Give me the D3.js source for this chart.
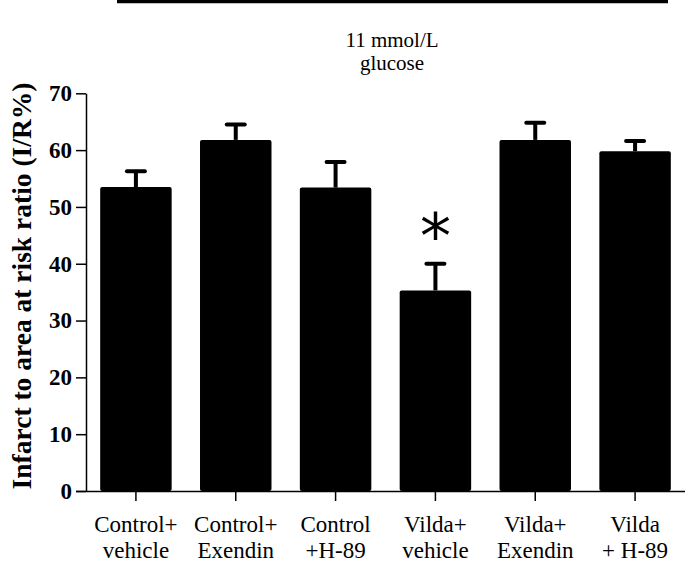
<!DOCTYPE html>
<html><head><meta charset="utf-8">
<script src="https://cdn.jsdelivr.net/npm/d3@7"></script>
<style>body{margin:0;background:#fff}</style>
</head><body>
<svg id="c" width="685" height="562"></svg>
<script>
const categories = [["Control+","vehicle"],["Control+","Exendin"],["Control","+H-89"],["Vilda+","vehicle"],["Vilda+","Exendin"],["Vilda","+ H-89"]];
const values = [53.5, 61.8, 53.4, 35.3, 61.8, 59.8];
const errors = [2.8, 2.7, 4.5, 4.7, 3.0, 1.8];
const yTicks = [0,10,20,30,40,50,60,70];
const significance = ["", "", "", "*", "", ""];
const groupLabel = ["11 mmol/L","glucose"];
const yTitle = "Infarct to area at risk ratio (I/R%)";

const svg = d3.select("#c");
const serif = "'Liberation Serif','Times New Roman',serif";
const x = d3.scaleBand().domain(d3.range(values.length)).range([86,685]).paddingInner(0.284).paddingOuter(0.142);
const y = d3.scaleLinear().domain([0,70]).range([491,93.3]);

// top line
svg.append("line").attr("x1",117).attr("x2",668).attr("y1",1.5).attr("y2",1.5).attr("stroke","#000").attr("stroke-width",3.5);
svg.append("text").attr("x",392).attr("y",47).attr("text-anchor","middle").attr("font-family",serif).attr("font-size",21).text(groupLabel[0]);
svg.append("text").attr("x",392).attr("y",70).attr("text-anchor","middle").attr("font-family",serif).attr("font-size",21).text(groupLabel[1]);

// bars
svg.selectAll("rect.bar").data(values).join("rect").attr("class","bar")
  .attr("x",(d,i)=>x(i)).attr("width",x.bandwidth())
  .attr("y",d=>y(d)).attr("height",d=>y(0)-y(d)).attr("rx",2).attr("fill","#000");

// error bars
const eb = svg.append("g").attr("stroke","#000").attr("stroke-width",4);
values.forEach((v,i)=>{
  const cx = x(i)+x.bandwidth()/2;
  eb.append("line").attr("x1",cx).attr("x2",cx).attr("y1",y(v)).attr("y2",y(v+errors[i]));
  eb.append("line").attr("x1",cx-9).attr("x2",cx+9).attr("y1",y(v+errors[i])).attr("y2",y(v+errors[i])).attr("stroke-linecap","round");
});

// significance
significance.forEach((s,i)=>{
  if(!s) return;
  svg.append("text").attr("x",x(i)+x.bandwidth()/2).attr("y",y(values[i]+errors[i])-6)
    .attr("text-anchor","middle").attr("font-family","'DejaVu Sans',sans-serif").attr("font-size",62).text(s);
});

// y axis
const ya = svg.append("g").attr("transform","translate(86,0)")
  .call(d3.axisLeft(y).tickValues(yTicks).tickSize(10).tickSizeOuter(0).tickPadding(4));
ya.select(".domain").attr("stroke-width",1.5);
ya.selectAll(".tick line").attr("stroke-width",1.5);
ya.selectAll("text").attr("font-family",serif).attr("font-size",23).attr("font-weight","bold").attr("fill","#000");

// x axis
const xa = svg.append("g").attr("transform","translate(0,491)")
  .call(d3.axisBottom(x).tickSize(10).tickSizeOuter(0).tickFormat(""));
xa.select(".domain").attr("d","M76,0.5H685").attr("stroke-width",1.5);
xa.selectAll(".tick line").attr("stroke-width",1.5);

categories.forEach((c,i)=>{
  const cx = x(i)+x.bandwidth()/2;
  c.forEach((t,j)=>{
    svg.append("text").attr("x",cx).attr("y",532+j*26).attr("text-anchor","middle")
      .attr("font-family",serif).attr("font-size",23).text(t);
  });
});

// y title
svg.append("text").attr("transform","translate(31,286) rotate(-90)").attr("text-anchor","middle")
  .attr("font-family",serif).attr("font-size",27.5).attr("font-weight","bold").text(yTitle);
</script>
</body></html>
